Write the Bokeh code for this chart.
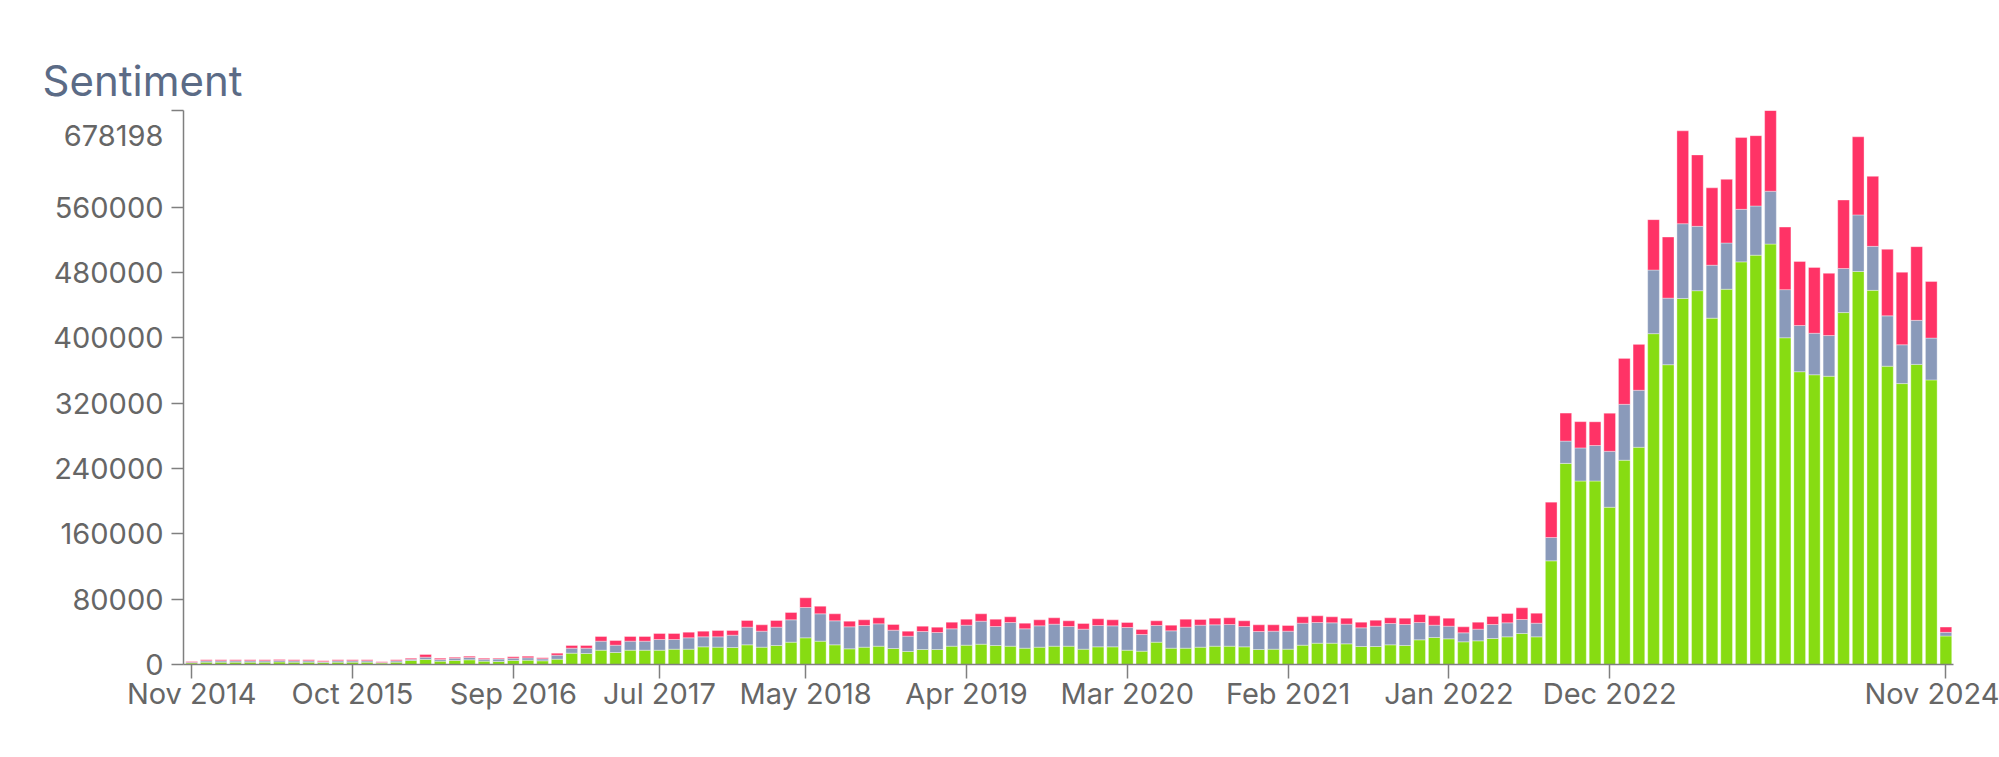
import pandas as pd
from bokeh.plotting import figure
from bokeh.models import ColumnDataSource, Range1d, FixedTicker
from bokeh.embed import file_html
from bokeh.resources import INLINE

# Monthly categories Nov 2014 .. Nov 2024
months = [d.strftime("%b %Y") for d in pd.date_range("2014-11-01", periods=121, freq="MS")]

positive = [
    1900, 2900, 2900, 2900, 2900, 2900, 3100, 2900, 2900, 2300,
    2900, 2900, 2900, 1700, 2900, 4900, 6100, 4100, 4900, 5700,
    4100, 3700, 4900, 5300, 4500, 6500, 13900, 13460, 17540, 14690,
    17540, 17540, 17540, 18770, 18770, 21620, 21220, 20810, 24070, 21220,
    23260, 27340, 32640, 28560, 24070, 19180, 21220, 22440, 19580, 15910,
    18360, 18360, 22440, 23660, 24890, 23260, 22440, 19990, 21220, 22440,
    22440, 18770, 21620, 21620, 17540, 16320, 27340, 19990, 19990, 21220,
    22440, 22440, 21620, 18360, 18770, 18770, 23660, 26110, 26110, 25300,
    22030, 22030, 24070, 23260, 30190, 33050, 31420, 27740, 28970, 31820,
    33860, 37940, 33860, 126900, 246200, 224600, 224600, 192500, 250100, 265900,
    405000, 367000, 448100, 457600, 424000, 459400, 492900, 501100, 514700, 400000,
    358400, 354700, 352900, 430800, 481100, 458000, 365200, 343900, 367400, 348400,
    34900,
]
neutral = [
    1000, 1600, 1600, 1600, 1600, 1600, 1700, 1600, 1600, 1200,
    1600, 1600, 1600, 900, 1600, 1600, 2900, 2000, 2900, 2900,
    2400, 2900, 2900, 2900, 2400, 4900, 6080, 6530, 11020, 8970,
    11020, 11020, 13060, 11830, 13870, 12240, 12640, 15090, 21630, 19580,
    22440, 27330, 37130, 33460, 29380, 26920, 26520, 27340, 22440, 18770,
    22030, 20810, 21220, 24480, 28150, 23250, 28970, 23670, 26110, 26930,
    24070, 24480, 26120, 25710, 27750, 20400, 20400, 21220, 25710, 26920,
    26110, 26520, 24890, 22030, 22030, 22030, 26930, 25300, 24890, 24070,
    22850, 24890, 26110, 25700, 21220, 15090, 15500, 11020, 14280, 17140,
    17140, 17140, 16730, 28550, 27300, 40500, 43500, 68500, 68400, 69800,
    77900, 81500, 91500, 78800, 64800, 56600, 64300, 60200, 64700, 58900,
    56600, 50800, 49800, 54000, 69300, 53900, 61600, 47500, 53900, 51200,
    4500,
]
negative = [
    800, 1200, 1200, 1200, 1200, 1200, 1300, 1200, 1200, 1000,
    1200, 1200, 1200, 700, 1200, 1300, 3300, 1700, 1200, 1600,
    1300, 1200, 1600, 2000, 1300, 2500, 3280, 3270, 5710, 5720,
    5710, 5710, 7340, 7340, 6940, 6940, 7760, 5720, 8160, 7750,
    8160, 8980, 11830, 9380, 8570, 6940, 6930, 7340, 6940, 6120,
    6530, 6530, 8160, 7350, 8980, 8980, 6930, 6930, 7340, 7750,
    6940, 6930, 8160, 7340, 6120, 6120, 5710, 6930, 9790, 6940,
    8160, 8160, 6940, 8160, 7750, 6940, 7750, 8160, 7340, 7340,
    6940, 7340, 6940, 7750, 9790, 11430, 9790, 7340, 8570, 9790,
    11420, 14280, 12240, 43250, 34300, 32200, 29000, 46600, 56200, 56200,
    61700, 74800, 113700, 87400, 94700, 77900, 87900, 86100, 98798, 76600,
    78400, 80600, 76200, 83800, 95600, 85700, 81500, 88800, 90200, 69300,
    6360,
]

tick_index = [0, 11, 22, 32, 42, 53, 64, 75, 86, 97, 120]
y_ticks = [0, 80000, 160000, 240000, 320000, 400000, 480000, 560000]

colors = ["#87dc12", "#8a9aba", "#ff3366"]
FONT = "Inter"
TXT = "#666666"
AXC = "#7f7f7f"

totals = [a + b + c for a, b, c in zip(positive, neutral, negative)]
ymax = max(totals)
# the max label sits a little below the top of the axis (about 25 px)
max_label_pos = ymax - 30600

src = ColumnDataSource(dict(x=list(range(len(months))), month=months,
                            positive=positive, neutral=neutral, negative=negative))

p = figure(width=1999, height=757, output_backend="svg", toolbar_location=None,
           x_range=Range1d(-0.561, 120.52), y_range=Range1d(0, ymax),
           min_border_left=183, min_border_right=46, min_border_top=110,
           min_border_bottom=93, title="Sentiment")
p.outline_line_color = None
p.grid.visible = False
p.background_fill_color = "white"

p.vbar_stack(["positive", "neutral", "negative"], x="x", width=0.8,
             color=colors, line_color="white", line_alpha=0.35, line_width=1,
             source=src)

p.title.text_font = FONT
p.title.text_font_size = "42px"
p.title.text_font_style = "normal"
p.title.text_color = "#5b6b86"
p.title.align = "left"
p.title.offset = -141
p.title.standoff = 10

xa = p.xaxis[0]
xa.ticker = FixedTicker(ticks=tick_index)
xa.major_label_overrides = {i: months[i] for i in tick_index}
xa.minor_tick_line_color = None
xa.major_tick_out = 14
xa.major_tick_in = 0
xa.major_label_standoff = -3
xa.major_label_text_font = FONT
xa.major_label_text_font_size = "29px"
xa.major_label_text_color = TXT
xa.axis_line_color = AXC
xa.axis_line_width = 1.5
xa.major_tick_line_color = AXC
xa.major_tick_line_width = 1.5

ya = p.yaxis[0]
ya.ticker = FixedTicker(ticks=y_ticks + [max_label_pos], minor_ticks=y_ticks + [ymax])
ya.major_label_overrides = {max_label_pos: str(ymax)}
ya.major_tick_line_color = None
ya.major_tick_out = 12
ya.major_tick_in = 0
ya.minor_tick_out = 12
ya.minor_tick_in = 0
ya.minor_tick_line_color = AXC
ya.minor_tick_line_width = 1.5
ya.major_label_standoff = 8
ya.major_label_text_font = FONT
ya.major_label_text_font_size = "29px"
ya.major_label_text_color = TXT
ya.axis_line_color = AXC
ya.axis_line_width = 1.5
ya.formatter.use_scientific = False

open("out.html", "w").write(file_html(p, INLINE))
